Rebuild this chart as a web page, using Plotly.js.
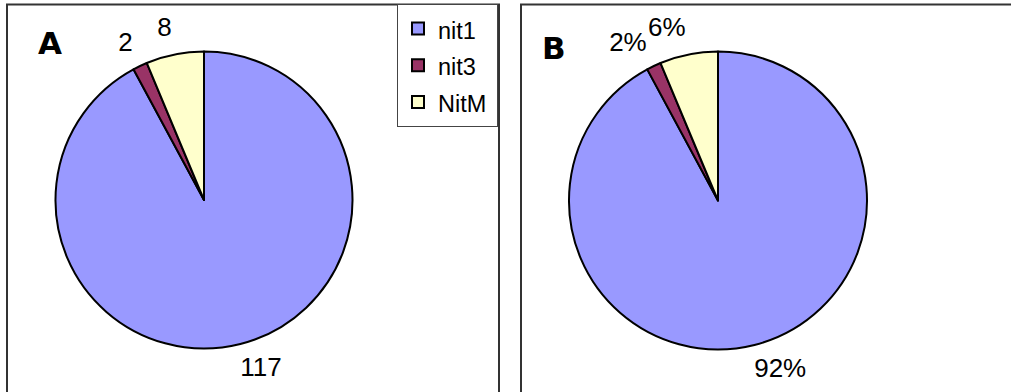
<!DOCTYPE html>
<html>
<head>
<meta charset="utf-8">
<script src="https://cdn.plot.ly/plotly-3.0.1.min.js"></script>
<style>
html,body{margin:0;padding:0;background:#fff}
#chart{width:1011px;height:392px}
#chart path.textline{display:none}
#chart .legendtext{font-size:23.5px !important}
</style>
</head>
<body>
<div id="chart"></div>
<script>
const categories = ['nit1', 'nit3', 'NitM'];
const countsA = [117, 2, 8];
const countsB = [117, 2, 8];
const sliceColors = ['#9999FF', '#993366', '#FFFFCC'];
const panelLetters = ['A', 'B'];

const W = 1011, H = 392;
const px = x => x / W;
const py = y => (H - y) / H;
const FONT = '"Liberation Sans", Arial, sans-serif';

function box(cx, cy, r) {
  return {x: [px(cx - r), px(cx + r)], y: [py(cy + r), py(cy - r)]};
}

// label layers: which slices each layer labels, its label radius and horizontal nudge
const labelLayers = [
  {show: [true, false, false], r: 158, dx: -10},
  {show: [false, true, false], r: 162, dx: 6},
  {show: [false, false, true], r: 162, dx: 7}
];

const panels = [
  {values: countsA, tmpl: '%{value}', cx: 204, cy: 200, r: 148.5, legend: 'legend'},
  {values: countsB, tmpl: '%{percent:.0%}', cx: 718, cy: 200.5, r: 149, legend: 'legend2'}
];

const traces = [];
panels.forEach(p => {
  traces.push({
    type: 'pie', labels: categories, values: p.values,
    sort: false, direction: 'clockwise', rotation: 0,
    marker: {colors: sliceColors, line: {color: '#000', width: 2}},
    textinfo: 'none',
    domain: box(p.cx, p.cy, p.r),
    legend: p.legend,
    hoverinfo: 'label+value+percent'
  });
  labelLayers.forEach(L => {
    traces.push({
      type: 'pie', labels: categories, values: p.values,
      sort: false, direction: 'clockwise', rotation: 0,
      marker: {colors: categories.map(() => 'rgba(0,0,0,0)'), line: {width: 0}},
      texttemplate: L.show.map(s => s ? p.tmpl : ''),
      textposition: 'outside',
      outsidetextfont: {family: FONT, size: 26, color: '#000'},
      textfont: {family: FONT, size: 26, color: '#000'},
      domain: box(p.cx + L.dx, p.cy, L.r),
      showlegend: false,
      hoverinfo: 'skip'
    });
  });
});

const legendStyle = {
  font: {family: FONT, size: 26, color: '#000'},
  bgcolor: '#fff',
  bordercolor: '#444',
  borderwidth: 1,
  xanchor: 'left',
  yanchor: 'top',
  itemclick: false,
  itemdoubleclick: false
};

const letterFont = {family: '"DejaVu Sans", sans-serif', size: 31, color: '#000'};

const layout = {
  width: W, height: H,
  margin: {l: 0, r: 0, t: 0, b: 0},
  paper_bgcolor: '#fff',
  showlegend: true,
  legend: Object.assign({}, legendStyle, {x: px(397), y: py(4)}),
  legend2: Object.assign({}, legendStyle, {x: px(915), y: py(4)}),
  shapes: [
    {type: 'rect', xref: 'paper', yref: 'paper', x0: px(7), x1: px(499), y0: py(400), y1: py(4.5), line: {color: '#333', width: 2}, layer: 'below'},
    {type: 'rect', xref: 'paper', yref: 'paper', x0: px(521), x1: px(1020), y0: py(400), y1: py(4.5), line: {color: '#333', width: 2}, layer: 'below'}
  ],
  annotations: [
    {text: '<b>' + panelLetters[0] + '</b>', xref: 'paper', yref: 'paper', x: px(49.5), y: py(43), xanchor: 'center', yanchor: 'middle', showarrow: false, font: letterFont},
    {text: '<b>' + panelLetters[1] + '</b>', xref: 'paper', yref: 'paper', x: px(553.5), y: py(48), xanchor: 'center', yanchor: 'middle', showarrow: false, font: letterFont}
  ]
};

Plotly.newPlot('chart', traces, layout, {displayModeBar: false, staticPlot: true});
</script>
</body>
</html>
